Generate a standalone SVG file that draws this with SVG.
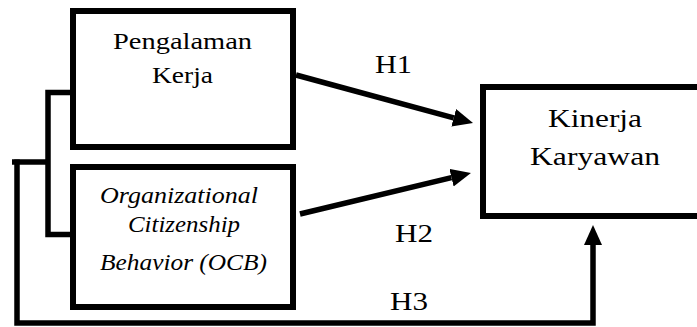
<svg xmlns="http://www.w3.org/2000/svg" width="697" height="327" viewBox="0 0 697 327">
<style>
.box{fill:#fff;stroke:#000;stroke-width:6}
.ln{fill:none;stroke:#000;stroke-width:5.5;stroke-linejoin:miter}
.t{font-family:"Liberation Serif","Times New Roman",serif;fill:#000;text-anchor:middle}
.it{font-style:italic}
</style>
<defs>
<marker id="ah" markerUnits="userSpaceOnUse" markerWidth="22" markerHeight="20" refX="0" refY="9" orient="auto">
<path d="M0,0 L20,9 L0,18 Z" fill="#000"/>
</marker>
</defs>
<g id="connectors">
<path class="ln" d="M73,92.5 L48,92.5 L48,234.5 L73,234.5"/>
<path class="ln" d="M48,162 L12,162"/>
<path class="ln" d="M17,159.5 L17,323 L593,323 L593,245" marker-end="url(#ah)"/>
<path class="ln" d="M296,75 L453.7,117.8" marker-end="url(#ah)"/>
<path class="ln" d="M300,214 L451.5,177.7" marker-end="url(#ah)"/>
<text class="t" x="393.5" y="73" font-size="26" textLength="37" lengthAdjust="spacingAndGlyphs">H1</text>
<text class="t" x="414" y="242" font-size="26" textLength="38" lengthAdjust="spacingAndGlyphs">H2</text>
<text class="t" x="409" y="310" font-size="26" textLength="38" lengthAdjust="spacingAndGlyphs">H3</text>
</g>
<g id="pengalaman">
<rect class="box" x="73" y="11" width="220" height="136"/>
<text class="t" x="182.5" y="49" font-size="24" textLength="139" lengthAdjust="spacingAndGlyphs">Pengalaman</text>
<text class="t" x="182.5" y="83" font-size="24" textLength="61" lengthAdjust="spacingAndGlyphs">Kerja</text>
</g>
<g id="ocb">
<rect class="box" x="73" y="167" width="220" height="140"/>
<text class="t it" x="179" y="203" font-size="24" textLength="158" lengthAdjust="spacingAndGlyphs">Organizational</text>
<text class="t it" x="184" y="232" font-size="24" textLength="112" lengthAdjust="spacingAndGlyphs">Citizenship</text>
<text class="t it" x="183.5" y="270" font-size="24" textLength="167" lengthAdjust="spacingAndGlyphs">Behavior (OCB)</text>
</g>
<g id="kinerja">
<rect class="box" x="483" y="87" width="230" height="129"/>
<text class="t" x="595" y="127" font-size="26" textLength="94" lengthAdjust="spacingAndGlyphs">Kinerja</text>
<text class="t" x="595" y="165" font-size="26" textLength="130" lengthAdjust="spacingAndGlyphs">Karyawan</text>
</g>
</svg>
